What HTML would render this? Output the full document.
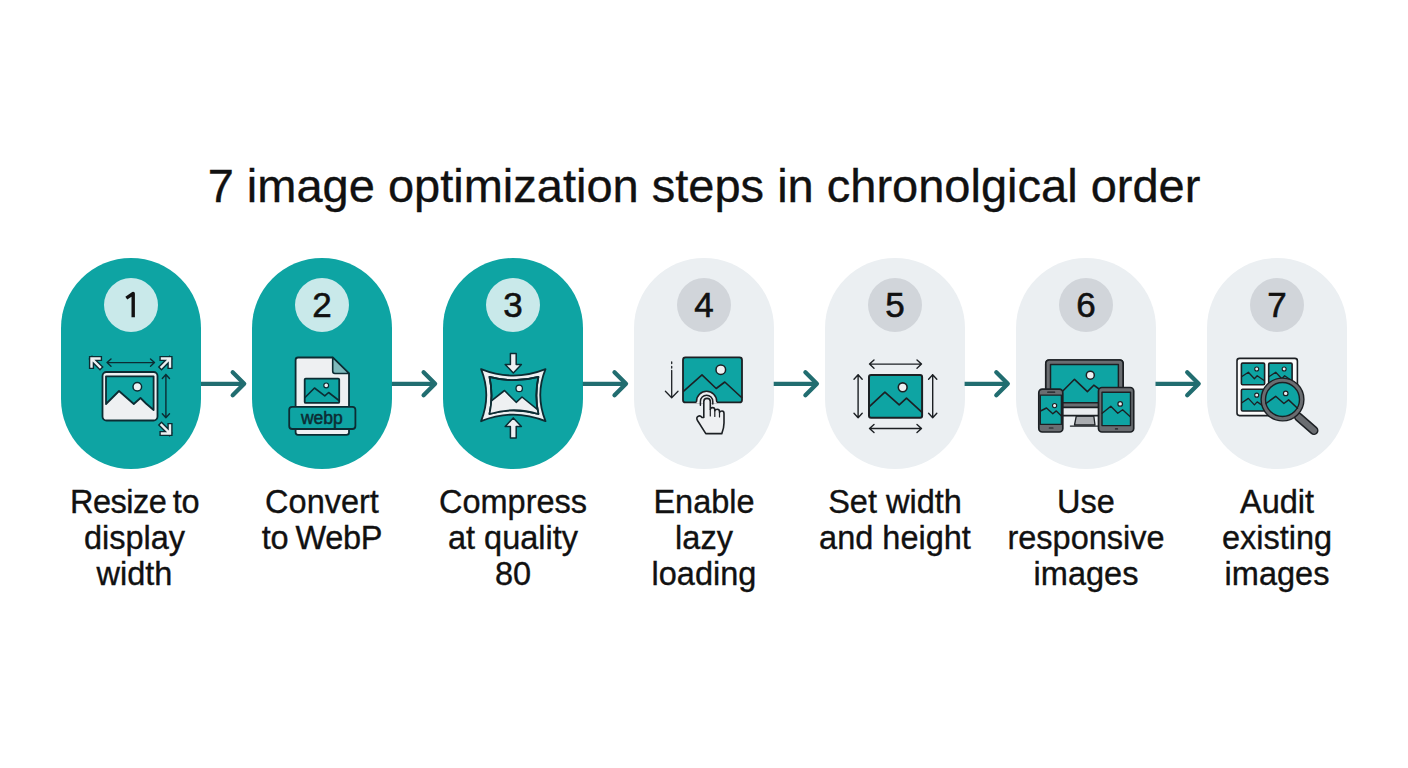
<!DOCTYPE html>
<html><head><meta charset="utf-8">
<style>
*{margin:0;padding:0;box-sizing:border-box}
html,body{width:1408px;height:768px;background:#fff;overflow:hidden;position:relative;font-family:"Liberation Sans",sans-serif;color:#111}
.title{position:absolute;left:0;width:1408px;top:160px;text-align:center;font-size:47px;line-height:52px;-webkit-text-stroke:0.35px #111;white-space:nowrap}
.pill{position:absolute;top:258px;width:140px;height:211px;border-radius:70px}
.t{background:#0ea4a3}
.g{background:#ebeff2}
.badge{position:absolute;left:43px;top:19.5px;width:54px;height:54px;border-radius:50%;text-align:center;font-size:35px;line-height:54px;color:#111;-webkit-text-stroke:0.6px #111}
.t .badge{background:#c9e9ea}
.g .badge{background:#d1d5da}
.arrow{position:absolute;top:370px;width:50px;height:28px}
.label{position:absolute;top:484px;width:200px;text-align:center;font-size:32.5px;line-height:36px;-webkit-text-stroke:0.35px #111;white-space:nowrap}
svg.ov{position:absolute;left:0;top:0}
</style></head><body>
<div class="title">7 image optimization steps in chronolgical order</div>

<div class="pill t" style="left:61px"><div class="badge"></div></div>
<div class="pill t" style="left:252px"><div class="badge">2</div></div>
<div class="pill t" style="left:443px"><div class="badge">3</div></div>
<div class="pill g" style="left:634px"><div class="badge">4</div></div>
<div class="pill g" style="left:825px"><div class="badge">5</div></div>
<div class="pill g" style="left:1016px"><div class="badge">6</div></div>
<div class="pill g" style="left:1207px"><div class="badge">7</div></div>

<div class="label" style="left:34.5px"><span style="word-spacing:-2px;letter-spacing:-0.5px">Resize to</span><br>display<br>width</div>
<div class="label" style="left:222px">Convert<br><span style="word-spacing:-1.5px;letter-spacing:-0.3px">to WebP</span></div>
<div class="label" style="left:413px">Compress<br>at quality<br>80</div>
<div class="label" style="left:604px">Enable<br>lazy<br>loading</div>
<div class="label" style="left:795px">Set width<br>and height</div>
<div class="label" style="left:986px">Use<br>responsive<br>images</div>
<div class="label" style="left:1177px">Audit<br>existing<br>images</div>
<svg class="ov" width="1408" height="768" viewBox="0 0 1408 768">
<g fill="none" stroke="#216d70" stroke-width="4.3" stroke-linecap="round" stroke-linejoin="round"><path stroke-linecap="butt" d="M201.0 383.8H243.7"/><path d="M232.7 372.3L244.2 383.8L232.7 395.3" /><path stroke-linecap="butt" d="M391.9 383.8H434.6"/><path d="M423.6 372.3L435.1 383.8L423.6 395.3" /><path stroke-linecap="butt" d="M582.8 383.8H625.5"/><path d="M614.5 372.3L626.0 383.8L614.5 395.3" /><path stroke-linecap="butt" d="M773.7 383.8H816.4"/><path d="M805.4 372.3L816.9 383.8L805.4 395.3" /><path stroke-linecap="butt" d="M964.6 383.8H1007.3"/><path d="M996.3 372.3L1007.8 383.8L996.3 395.3" /><path stroke-linecap="butt" d="M1155.5 383.8H1198.2"/><path d="M1187.2 372.3L1198.7 383.8L1187.2 395.3" /></g>
<path d="M133.2 317.2V293.5L126.3 298.2" fill="none" stroke="#111" stroke-width="3.4" stroke-linejoin="round" stroke-linecap="butt"/>
<g stroke="#0c2c33" stroke-linejoin="round" stroke-linecap="round">
  <rect x="102.5" y="372" width="55" height="48.5" rx="4" fill="#eef0f2" stroke-width="1.8"/>
  <path d="M106 376.3H153.6V410L146 403.5 140.5 398 133.8 404 119 391 106 404Z" fill="#0ea4a3" stroke-width="1.8"/>
  <circle cx="137.3" cy="386.7" r="4.3" fill="#eef0f2" stroke-width="1.5"/>
  <path d="M107 362.6H154.5M111 359L107 362.6 111 366.2M150.5 359L154.5 362.6 150.5 366.2" fill="none" stroke-width="1.4"/>
  <path d="M165.9 374.5V417.8M162.3 378.5L165.9 374.5 169.5 378.5M162.3 413.8L165.9 417.8 169.5 413.8" fill="none" stroke-width="1.4"/>
  <g fill="none" stroke-linecap="square" stroke-linejoin="miter">
  <path d="M91.5 366.5V358.5H99.5M92 359L100 367" stroke="#0c2c33" stroke-width="5.2"/>
  <path d="M91.5 366.5V358.5H99.5M92 359L100 367" stroke="#eef0f2" stroke-width="2.4"/>
  <path d="M170 366.5V358.5H162M169.5 359L161.5 367" stroke="#0c2c33" stroke-width="5.2"/>
  <path d="M170 366.5V358.5H162M169.5 359L161.5 367" stroke="#eef0f2" stroke-width="2.4"/>
  <path d="M170 425.5V433.5H162M169.5 433L161.5 425" stroke="#0c2c33" stroke-width="5.2"/>
  <path d="M170 425.5V433.5H162M169.5 433L161.5 425" stroke="#eef0f2" stroke-width="2.4"/>
  </g>
</g>
<g stroke="#0c2c33" stroke-linejoin="round" stroke-linecap="round">
  <path d="M298 357.5H332.7L349 373.5V432.5Q349 434.8 346.5 434.8H298Q295.6 434.8 295.6 432.3V360Q295.6 357.5 298 357.5Z" fill="#eef0f2" stroke-width="1.8"/>
  <path d="M332.7 357.5V371Q332.7 373.5 335 373.5H349Z" fill="#7fb9bb" stroke-width="1.6"/>
  <rect x="304.7" y="378.6" width="34.5" height="24.3" rx="1" fill="#0ea4a3" stroke-width="1.8"/>
  <path d="M305 397.5L314.5 388 324.8 395.8 328.6 392.5 339 400.5" fill="none" stroke-width="1.6"/>
  <circle cx="326.2" cy="385.4" r="2.4" fill="#eef0f2" stroke-width="1.2"/>
  <rect x="289.2" y="406.8" width="66.2" height="22.2" rx="3" fill="#0ea4a3" stroke-width="1.8"/>
  <text x="321.8" y="423.5" text-anchor="middle" font-family="Liberation Sans" font-size="17.5" stroke-width="0.5" stroke="#0c2c33" fill="#0c2c33">webp</text>
</g>
<g stroke="#0c2c33" stroke-linejoin="round" stroke-linecap="round">
  <path d="M481.1 369.1Q513.3 382 545.5 369.1Q535 395 545.5 421.2Q513.3 408 481.1 421.2Q491.5 395 481.1 369.1Z" fill="#eef0f2" stroke-width="1.8"/>
  <path d="M489.5 376.9Q513.9 383.5 538.4 376.9Q534.4 395.5 538.4 414Q513.9 406.5 489.5 414Q493.5 395.5 489.5 376.9Z" fill="#0ea4a3" stroke-width="1.8"/>
  <clipPath id="c3"><path d="M489.5 376.9Q513.9 383.5 538.4 376.9Q534.4 395.5 538.4 414Q513.9 406.5 489.5 414Q493.5 395.5 489.5 376.9Z"/></clipPath><path clip-path="url(#c3)" d="M488 403.5L504.5 390.5 516.2 402.3 522 397 540 411.5V420H488Z" fill="#eef0f2" stroke-width="1.6"/><path d="M489.5 376.9Q513.9 383.5 538.4 376.9Q534.4 395.5 538.4 414Q513.9 406.5 489.5 414Q493.5 395.5 489.5 376.9Z" fill="none" stroke-width="1.8"/>
  <circle cx="519.2" cy="388.4" r="3.2" fill="#eef0f2" stroke-width="1.3"/>
  <path d="M510.4 353.5H516.2V364.5H521.4L513.3 373 505.2 364.5H510.4Z" fill="#eef0f2" stroke-width="1.5"/>
  <path d="M510.4 438.1H516.2V426.4H521.4L513.3 417.9 505.2 426.4H510.4Z" fill="#eef0f2" stroke-width="1.5"/>
</g>
<g stroke="#1c2024" stroke-linejoin="round" stroke-linecap="round">
  <rect x="683" y="357.4" width="59" height="45" rx="2.5" fill="#0ea4a3" stroke-width="1.8"/>
  <path d="M683.7 391.2L702 374.8 716.2 388.5 724.8 382 741.6 397.5" fill="none" stroke-width="1.6"/>
  <circle cx="720.8" cy="369.7" r="4.8" fill="#eef0f2" stroke-width="1.5"/>
  <path d="M671.7 362V363.5M671.7 366.5V368M671.7 370.5V397.7M665.4 391.2L671.7 397.7 678 391.2" fill="none" stroke-width="1.3"/>
  <path d="M696.5 403.2V401.4A10.1 10.1 0 0 1 716.7 401.4V403.2Z" fill="#eef0f2" stroke="none"/>
  <path d="M696.5 401.4A10.1 10.1 0 0 1 716.7 401.4" fill="none" stroke-width="1.6"/>
  <path d="M700.4 405.2V401.4A6.2 6.2 0 0 1 712.8 401.4V404" fill="none" stroke-width="1.5"/>
  <path d="M703.8 417.5V401.5Q703.8 398.4 707 398.4Q710.3 398.4 710.3 401.5V409.5Q710.3 407.6 712.5 407.6Q714.8 407.6 714.8 409.8V410.8Q715.4 409.2 717.3 409.2Q719.5 409.2 719.5 411.5V412.3Q720.3 411 722 411Q724 411 724 413.5V423Q724 428 721.8 433.6H705.8L697.5 420.5Q695.8 417.5 698.3 416.2Q700.3 415.3 702 417.5Z" fill="#eef0f2" stroke-width="1.6"/>
  <path d="M710.3 409.5V416M714.8 410.8V416.5M719.5 412.3V417" fill="none" stroke-width="1.2"/>
</g>
<g stroke="#1c2024" stroke-linejoin="round" stroke-linecap="round">
  <rect x="869" y="374.9" width="53.1" height="42.9" rx="2" fill="#0ea4a3" stroke-width="2"/>
  <path d="M869.6 406.3L884.9 392.2 899.2 404.9 906.5 398.1 921.8 412.1" fill="none" stroke-width="1.7"/>
  <circle cx="902.7" cy="387.3" r="4.4" fill="#eef0f2" stroke-width="1.6"/>
  <g fill="none" stroke-width="1.4">
    <path d="M869.5 364.1H921.5M874 360L869.5 364.1 874 368.2M917 360L921.5 364.1 917 368.2"/>
    <path d="M869.5 428.5H921.5M874 424.4L869.5 428.5 874 432.6M917 424.4L921.5 428.5 917 432.6"/>
    <path d="M858.1 374.8V417.8M854 379.3L858.1 374.8 862.2 379.3M854 413.3L858.1 417.8 862.2 413.3"/>
    <path d="M932.7 374.8V417.8M928.6 379.3L932.7 374.8 936.8 379.3M928.6 413.3L932.7 417.8 936.8 413.3"/>
  </g>
</g>
<g stroke="#1c2024" stroke-linejoin="round" stroke-linecap="round">
  <path d="M1076.3 416H1093.8L1095 425H1074.5Z" fill="#a9acb0" stroke-width="1.3"/>
  <path d="M1070.4 426.1H1097.9" fill="none" stroke-width="1.3"/>
  <rect x="1045.8" y="360" width="77.3" height="55.6" rx="3.5" fill="#e9ecef" stroke-width="1.7"/>
  <path d="M1045.8 407.4V363.5Q1045.8 360 1049.3 360H1119.6Q1123.1 360 1123.1 363.5V407.4Z" fill="#6a6d71" stroke-width="1.7"/>
  <rect x="1050.5" y="364.6" width="67.9" height="38.1" fill="#0ea4a3" stroke-width="1.5"/>
  <path d="M1062.8 391L1074.5 379.3 1087.4 391.6 1093.8 385.2 1099 389" fill="none" stroke-width="1.6"/>
  <circle cx="1090.3" cy="375.2" r="4" fill="#eef0f2" stroke-width="1.5"/>
  <rect x="1038.8" y="389.2" width="24" height="42.8" rx="3.5" fill="#6a6d71" stroke-width="1.7"/>
  <rect x="1040.3" y="395.1" width="21.1" height="29.3" fill="#0ea4a3" stroke-width="1.4"/>
  <path d="M1040.5 411L1046.5 408 1052.8 413.8 1056.3 410.9 1061.2 415.7" fill="none" stroke-width="1.4"/>
  <circle cx="1054.6" cy="405.6" r="2.1" fill="#eef0f2" stroke-width="1.1"/>
  <path d="M1047.7 392.2H1054.7M1049.3 428H1053" fill="none" stroke-width="1.2"/>
  <rect x="1098.5" y="387.5" width="35.2" height="44.5" rx="3.5" fill="#6a6d71" stroke-width="1.7"/>
  <rect x="1102" y="392.2" width="28.5" height="33.4" fill="#0ea4a3" stroke-width="1.4"/>
  <path d="M1102.2 413.2L1110.8 406.3 1117.8 413.2 1122.6 409.7 1130.3 416.8" fill="none" stroke-width="1.4"/>
  <circle cx="1120.2" cy="403.9" r="2.3" fill="#eef0f2" stroke-width="1.2"/>
  <path d="M1115.5 428.9H1117.5" fill="none" stroke-width="1.3"/>
</g>
<g stroke="#1c2024" stroke-linejoin="round" stroke-linecap="round">
  <rect x="1237" y="358.4" width="60.4" height="57.2" rx="2.5" fill="#fbfbfb" stroke-width="1.6"/>
  <rect x="1241.4" y="363.1" width="23.2" height="21.7" rx="1.2" fill="#0ea4a3" stroke-width="1.6"/>
  <path d="M1241.9 376.55400000000003L1248.3600000000001 372.214 1254.392 378.72400000000005 1257.1760000000002 375.68600000000004 1264.1000000000001 380.46000000000004" fill="none" stroke-width="1.3"/>
  <circle cx="1256.712" cy="368.959" r="2" fill="#eef0f2" stroke-width="1.1"/>
  <rect x="1268.7" y="363.1" width="23.4" height="21.7" rx="1.2" fill="#0ea4a3" stroke-width="1.6"/>
  <path d="M1269.2 376.55400000000003L1275.72 372.214 1281.804 378.72400000000005 1284.612 375.68600000000004 1291.6000000000001 380.46000000000004" fill="none" stroke-width="1.3"/>
  <circle cx="1284.144" cy="368.959" r="2" fill="#eef0f2" stroke-width="1.1"/>
  <rect x="1241.4" y="389.3" width="23.2" height="21.7" rx="1.2" fill="#0ea4a3" stroke-width="1.6"/>
  <path d="M1241.9 402.754L1248.3600000000001 398.414 1254.392 404.92400000000004 1257.1760000000002 401.886 1264.1000000000001 406.66" fill="none" stroke-width="1.3"/>
  <circle cx="1256.712" cy="395.159" r="2" fill="#eef0f2" stroke-width="1.1"/>
  <path d="M1298.5 417L1314 430.5" stroke="#1c2024" stroke-width="9"/>
  <path d="M1298.5 417L1314 430.5" stroke="#6a6d71" stroke-width="6"/>
  <circle cx="1282.5" cy="399.5" r="19.2" fill="#0ea4a3" stroke="#6a6d71" stroke-width="4.2"/>
  <circle cx="1282.5" cy="399.5" r="21.4" fill="none" stroke-width="1.4"/>
  <circle cx="1282.5" cy="399.5" r="17" fill="none" stroke-width="1.4"/>
  <path d="M1266 403.5L1275.7 396.3 1283.9 403.5 1288.6 399.9 1297.5 408.2" fill="none" stroke-width="1.5"/>
  <circle cx="1285.7" cy="393.4" r="2.3" fill="#eef0f2" stroke-width="1.2"/>
</g>
</svg>
</body></html>
